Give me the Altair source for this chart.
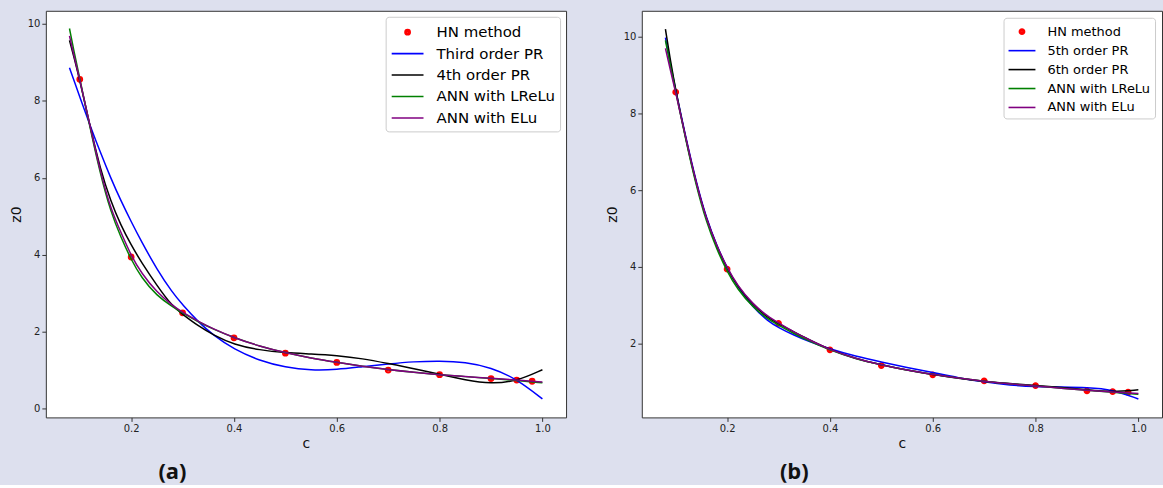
import altair as alt
import pandas as pd

# ---- data ----
HN_C = [0.10, 0.20, 0.30, 0.40, 0.50, 0.60, 0.70, 0.80, 0.90, 0.95, 0.98]
HN_Z_A = [8.56, 3.94, 2.49, 1.84, 1.44, 1.20, 1.00, 0.88, 0.78, 0.74, 0.71]
HN_Z_B = [8.55, 3.94, 2.53, 1.84, 1.43, 1.19, 1.03, 0.91, 0.77, 0.75, 0.735]

CURVE_C = [0.08, 0.09, 0.10, 0.12, 0.14, 0.16, 0.18, 0.20, 0.22, 0.25, 0.28, 0.30, 0.33, 0.36,
           0.40, 0.45, 0.50, 0.55, 0.60, 0.65, 0.70, 0.75, 0.80, 0.85, 0.90, 0.95, 1.00]

# panel (a)
A_PR3 = [8.86, 8.48, 8.10, 7.36, 6.66, 6.00, 5.40, 4.86, 4.34, 3.62, 3.02, 2.70, 2.26, 1.90,
         1.54, 1.24, 1.07, 0.99, 1.01, 1.09, 1.16, 1.22, 1.24, 1.21, 1.07, 0.77, 0.25]
A_PR4 = [9.57, 9.07, 8.53, 7.34, 6.22, 5.40, 4.76, 4.25, 3.80, 3.20, 2.66, 2.45, 2.15, 1.91,
         1.66, 1.52, 1.45, 1.42, 1.38, 1.30, 1.17, 1.04, 0.89, 0.74, 0.64, 0.71, 1.01]
A_LRELU = [9.88, 9.20, 8.58, 7.30, 6.10, 5.12, 4.45, 3.87, 3.40, 2.93, 2.65, 2.48, 2.26, 2.06,
           1.84, 1.62, 1.45, 1.31, 1.20, 1.10, 1.01, 0.94, 0.88, 0.83, 0.78, 0.73, 0.67]
A_ELU = [9.69, 9.10, 8.56, 7.35, 6.15, 5.20, 4.58, 3.97, 3.52, 3.02, 2.68, 2.50, 2.27, 2.07,
         1.84, 1.62, 1.45, 1.31, 1.20, 1.10, 1.01, 0.94, 0.88, 0.83, 0.79, 0.74, 0.69]

# panel (b)
B_PR5 = [9.97, 9.25, 8.60, 7.35, 6.20, 5.25, 4.55, 3.97, 3.48, 2.95, 2.58, 2.42, 2.22, 2.05,
         1.86, 1.67, 1.52, 1.38, 1.25, 1.11, 1.00, 0.92, 0.88, 0.87, 0.86, 0.81, 0.56]
B_PR6 = [10.19, 9.35, 8.60, 7.30, 6.15, 5.22, 4.52, 3.95, 3.50, 3.00, 2.67, 2.52, 2.30, 2.10,
         1.84, 1.61, 1.45, 1.31, 1.19, 1.10, 1.02, 0.96, 0.91, 0.86, 0.80, 0.74, 0.80]
B_LRELU = [9.90, 9.20, 8.56, 7.28, 6.10, 5.15, 4.45, 3.88, 3.42, 2.95, 2.63, 2.48, 2.26, 2.07,
           1.83, 1.60, 1.45, 1.31, 1.20, 1.10, 1.02, 0.95, 0.90, 0.84, 0.79, 0.73, 0.68]
B_ELU = [9.69, 9.10, 8.55, 7.33, 6.17, 5.22, 4.55, 3.97, 3.52, 3.03, 2.70, 2.54, 2.30, 2.10,
         1.84, 1.61, 1.45, 1.31, 1.20, 1.10, 1.02, 0.95, 0.90, 0.84, 0.79, 0.74, 0.70]

SERIES_A = ["HN method", "Third order PR", "4th order PR", "ANN with LReLu", "ANN with ELu"]
SERIES_B = ["HN method", "5th order PR", "6th order PR", "ANN with LReLu", "ANN with ELu"]
COLORS = ["#ff0000", "#0000ff", "#000000", "#008000", "#800080"]

X_TICKS = [0.2, 0.4, 0.6, 0.8, 1.0]
Y_TICKS_A = [0, 2, 4, 6, 8, 10]
Y_TICKS_B = [2, 4, 6, 8, 10]
X_DOMAIN = [0.034, 1.046]
Y_DOMAIN_A = [-0.23, 10.34]
Y_DOMAIN_B = [0.08, 10.67]

FONT = "DejaVu Sans"


def ring_path(r1, r2):
    parts = []
    for r in (r1, r2):
        parts.append(f"M{-r},0A{r},{r},0,1,0,{r},0A{r},{r},0,1,0,{-r},0Z")
    return "".join(parts)


def panel(names, hn_z, curves, y_domain, y_ticks, tag, tag_x,
          lab_size, sym_size, half_len, sym_off, lab_off, pad, leg_offset, row_pad):
    scale_f = (sym_size ** 0.5) / 2.0
    dot = ring_path(round(2.6 / scale_f, 3), round(1.0 / scale_f, 3))
    line = f"M{-half_len},0H{half_len}"

    pts = pd.DataFrame({"c": HN_C, "z": hn_z, "series": names[0]})
    rows = []
    for name, vals in zip(names[1:], curves):
        for c, z in zip(CURVE_C, vals):
            rows.append({"c": c, "z": z, "series": name})
    lines = pd.DataFrame(rows)

    legend = alt.Legend(
        title=None, orient="top-right", offset=leg_offset, padding=pad,
        strokeColor="#cccccc", fillColor="white", cornerRadius=3,
        labelFont=FONT, labelFontSize=lab_size, labelColor="#000000",
        labelOffset=lab_off, labelLimit=400, rowPadding=row_pad,
        symbolSize=sym_size, symbolStrokeWidth=1.6, symbolOffset=sym_off,
        symbolOpacity=1,
    )
    color_scale = alt.Scale(domain=names, range=COLORS)
    x = alt.X("c:Q", scale=alt.Scale(domain=X_DOMAIN, nice=False, zero=False),
              axis=alt.Axis(values=X_TICKS, format=".1f", title="c"))
    y = alt.Y("z:Q", scale=alt.Scale(domain=y_domain, nice=False, zero=False),
              axis=alt.Axis(values=y_ticks, format="d", title="z0"))

    p = alt.Chart(pts).mark_point(filled=False, size=sym_size, strokeWidth=1.6, opacity=1).encode(
        x=x, y=y,
        color=alt.Color("series:N", scale=color_scale, legend=legend),
        shape=alt.Shape("series:N", scale=alt.Scale(domain=names, range=[dot, line, line, line, line]),
                        legend=legend),
    )
    l = alt.Chart(lines).mark_line(strokeWidth=1.5, interpolate="basis").encode(
        x=x, y=y, color=alt.Color("series:N", scale=color_scale, legend=None))
    t = alt.Chart(pd.DataFrame({"t": [tag]})).mark_text(
        font="Open Sans", fontSize=22, fontWeight="bold", color="#111111",
        align="center", baseline="middle").encode(
        text="t:N", x=alt.value(tag_x), y=alt.value(463))
    return alt.layer(p, l, t).properties(width=522, height=408)


left = panel(SERIES_A, HN_Z_A, [A_PR3, A_PR4, A_LRELU, A_ELU], Y_DOMAIN_A, Y_TICKS_A,
             "(a)", 127, 15, 361, 1.68, 6.5, 18.5, 5, 6, 2.5)
right = panel(SERIES_B, HN_Z_B, [B_PR5, B_PR6, B_LRELU, B_ELU], Y_DOMAIN_B, Y_TICKS_B,
              "(b)", 153, 13, 324, 1.5, 4.5, 15.5, 4, 7, 2)

chart = alt.hconcat(left, right, spacing=37).resolve_scale(
    color="independent", shape="independent").resolve_legend(
    color="independent", shape="independent").properties(
    background="#dde0ee",
    padding={"left": 8, "top": 9, "right": 0, "bottom": 0},
).configure_view(
    fill="white", stroke="#333333", strokeWidth=1
).configure_axis(
    domain=False, grid=False, ticks=True, tickSize=4, tickColor="#333333",
    labelFont=FONT, labelFontSize=10, labelColor="#222222", labelPadding=2,
    titleFont=FONT, titleFontSize=14, titleFontWeight="normal", titleColor="#111111",
).configure_axisX(titlePadding=3).configure_axisY(titlePadding=4)

chart.save("out.html", embed_options={"renderer": "svg", "actions": False})
